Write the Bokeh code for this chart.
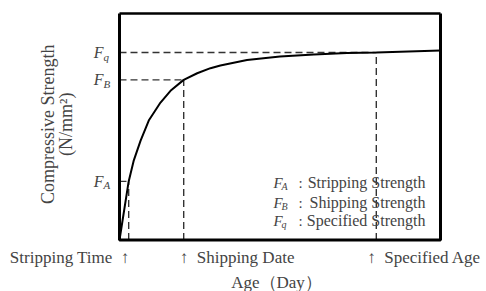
import math
from bokeh.plotting import figure
from bokeh.models import Label, Range1d
from bokeh.embed import file_html
from bokeh.resources import INLINE

# ---- data ----
age = [0, 1, 1.56, 2.29, 3.19, 4.47, 5.56, 7, 8.47, 9.92, 11.0, 13.9, 17.5, 21.2, 24.8, 28, 35]
strength = [0, 7.5, 10.2, 12.7, 15.3, 17.6, 19.1, 20.5, 21.35, 22.0, 22.35, 23.05, 23.5, 23.75, 23.95, 24.0, 24.25]
key_ages = [1, 7, 28]              # stripping time, shipping date, specified age
key_strengths = [7.5, 20.5, 24.0]  # F_A, F_B, F_q
key_subs = ["A", "B", "q"]
age_labels = ["Stripping Time\u00a0\u00a0\u2191", "\u2191\u00a0\u00a0Shipping Date", "\u2191\u00a0\u00a0Specified Age"]
legend_names = ["Stripping Strength", "Shipping Strength", "Specified Strength"]
x_title = "Age\uff08Day\uff09"
y_title = ["Compressive Strength", "(N/mm\u00b2)"]
x_max, y_max = 35, 29

# ---- layout (pixels) ----
W, H = 486, 291
BOX_L, BOX_R, BOX_T, BOX_B = 119, 440, 13, 239.5
sx = x_max / (BOX_R - BOX_L)
sy = y_max / (BOX_B - BOX_T)
x_range = Range1d(-BOX_L * sx, (W - BOX_L) * sx)
y_range = Range1d(-(H - BOX_B) * sy, BOX_B * sy)

FONT = "Liberation Serif"

p = figure(width=W, height=H, output_backend="svg", toolbar_location=None,
           x_range=x_range, y_range=y_range,
           min_border_left=0, min_border_right=0, min_border_top=0, min_border_bottom=0)
p.xaxis.visible = False
p.yaxis.visible = False
p.xgrid.visible = False
p.ygrid.visible = False
p.outline_line_color = None
p.background_fill_color = "white"
p.border_fill_color = "white"

# dashed guide lines
dash = dict(line_color="#333333", line_width=1.4, line_dash="7 4")
for xa, ys in zip(key_ages, key_strengths):
    p.line([0, xa], [ys, ys], **dash)
    p.line([xa, xa], [0, ys], **dash)

# strength curve
p.line(age, strength, line_color="black", line_width=2)

# chart box
p.line([0, 0, x_max, x_max], [y_max, 0, 0, y_max], line_color="black", line_width=3)
p.line([0, x_max], [y_max, y_max], line_color="black", line_width=2.5)

# y tick labels F_A, F_B, F_q
for ys, sub in zip(key_strengths, key_subs):
    p.add_layout(Label(x=0, y=ys, x_offset=-16, text="F", text_font=FONT,
                       text_font_style="italic", text_font_size="16px",
                       text_align="right", text_baseline="middle"))
    p.add_layout(Label(x=0, y=ys, x_offset=-16, y_offset=-4, text=sub, text_font=FONT,
                       text_font_style="italic", text_font_size="11px",
                       text_align="left", text_baseline="middle"))

# bottom labels
aligns = ["right", "left", "left"]
offs = [1, -4, -9]
for xa, lab, al, o in zip(key_ages, age_labels, aligns, offs):
    p.add_layout(Label(x=xa, y=0, x_offset=o, y_offset=-17.5, text=lab, text_font=FONT,
                       text_font_size="17px", text_align=al, text_baseline="middle"))

p.add_layout(Label(x=x_max / 2, y=0, x_offset=-3.5, y_offset=-42.5, text=x_title,
                   text_font=FONT, text_font_size="17px", text_align="center",
                   text_baseline="middle"))

# y axis title (two lines, rotated)
for line_txt, xo in zip(y_title, [-72, -53.5]):
    p.add_layout(Label(x=0, y=y_max / 2, x_offset=xo, y_offset=2.5, text=line_txt,
                       text_font=FONT, text_font_size="18px", angle=math.pi / 2,
                       text_align="center", text_baseline="middle"))

# legend text block
leg_off = [57.5, 37.5, 19.5]
for yo, sub, name in zip(leg_off, key_subs, legend_names):
    p.add_layout(Label(x=x_max, y=0, x_offset=-15, y_offset=yo, text=name, text_font=FONT,
                       text_font_size="16px", text_align="right", text_baseline="middle"))
    p.add_layout(Label(x=x_max, y=0, x_offset=-167, y_offset=yo, text="F", text_font=FONT,
                       text_font_style="italic", text_font_size="15px",
                       text_align="left", text_baseline="middle"))
    p.add_layout(Label(x=x_max, y=0, x_offset=-159, y_offset=yo - 4, text=sub, text_font=FONT,
                       text_font_style="italic", text_font_size="10px",
                       text_align="left", text_baseline="middle"))
    p.add_layout(Label(x=x_max, y=0, x_offset=-140, y_offset=yo, text=":", text_font=FONT,
                       text_font_size="15px", text_align="center", text_baseline="middle"))

open("out.html", "w").write(file_html(p, INLINE))
